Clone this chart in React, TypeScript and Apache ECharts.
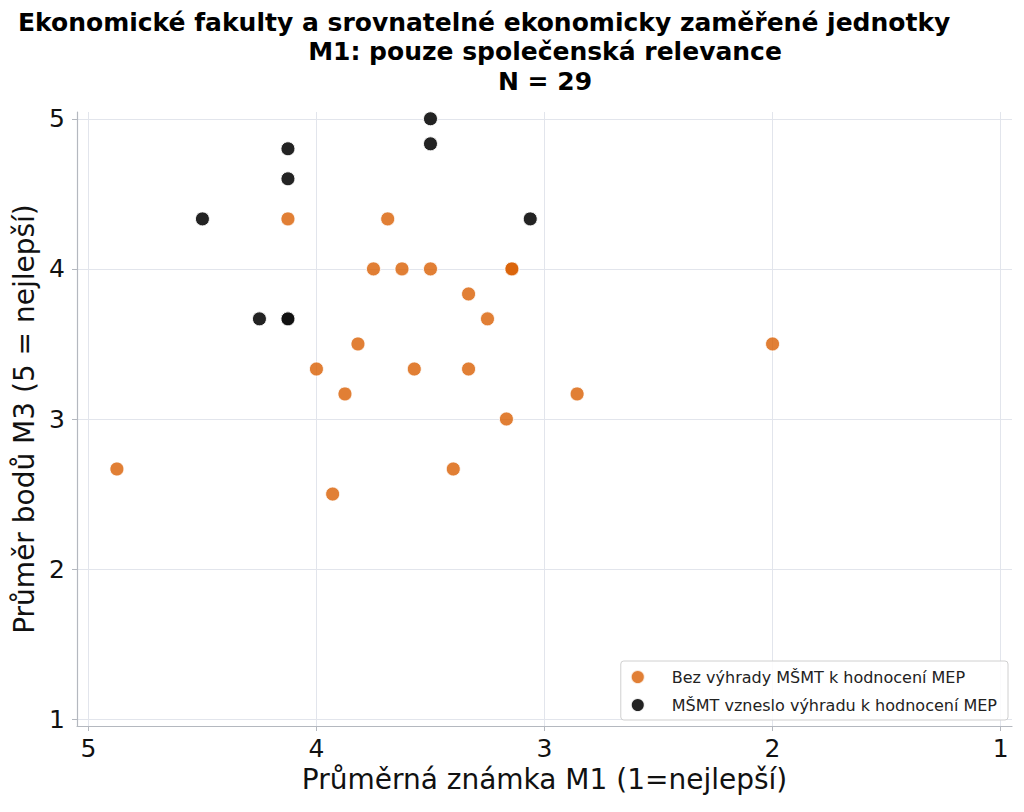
import React, { useEffect, useRef } from "react";
import * as echarts from "echarts";

const titleLines = [
  "Ekonomické fakulty a srovnatelné ekonomicky zaměřené jednotky",
  "M1: pouze společenská relevance",
  "N = 29",
];
const xAxisName = "Průměrná známka M1 (1=nejlepší)";
const yAxisName = "Průměr bodů M3 (5 = nejlepší)";
const seriesNames = [
  "Bez výhrady MŠMT k hodnocení MEP",
  "MŠMT vzneslo výhradu k hodnocení MEP",
];
const xTicks = [5, 4, 3, 2, 1];
const yTicks = [1, 2, 3, 4, 5];

// Bez výhrady (orange)
const noObjectionX = [4.875, 4.125, 3.6875, 3.75, 3.625, 3.5, 3.143, 3.143, 3.333, 3.25, 3.818, 4.0, 3.571, 3.333, 3.875, 2.857, 3.167, 3.4, 3.929, 2.0];
const noObjectionY = [2.667, 4.333, 4.333, 4.0, 4.0, 4.0, 4.0, 4.0, 3.833, 3.667, 3.5, 3.333, 3.333, 3.333, 3.167, 3.167, 3.0, 2.667, 2.5, 3.5];
// Výhrada (dark)
const objectionX = [4.5, 4.125, 4.125, 3.5, 3.5, 3.0625, 4.25, 4.125, 4.125];
const objectionY = [4.333, 4.8, 4.6, 5.0, 4.833, 4.333, 3.667, 3.667, 3.667];

const FONT = "DejaVu Sans";

export default function App() {
  const ref = useRef<HTMLDivElement>(null);
  useEffect(() => {
    document.body.style.margin = "0";
    const chart = echarts.init(ref.current!, null, { renderer: "svg" });
    const gridColor = "#e2e5ec";
    const spineColor = "#b4b8bf";
    const titleFont = `bold 25px "${FONT}"`;
    const option: any = {
      animation: false,
      textStyle: { fontFamily: FONT },
      grid: { left: 77, right: 12, top: 112, bottom: 86, containLabel: false },
      graphic: [
        { type: "text", x: 18, y: 10, style: { text: titleLines[0], font: titleFont, fill: "#000", textVerticalAlign: "top" } },
        { type: "text", x: 545, y: 39, style: { text: titleLines[1], font: titleFont, fill: "#000", textAlign: "center", textVerticalAlign: "top" } },
        { type: "text", x: 545, y: 69, style: { text: titleLines[2], font: titleFont, fill: "#000", textAlign: "center", textVerticalAlign: "top" } },
      ],
      legend: {
        orient: "vertical",
        right: 16,
        top: 661,
        data: seriesNames,
        icon: "circle",
        itemWidth: 14,
        itemHeight: 14,
        itemGap: 12,
        padding: [8, 11, 7, 9],
        borderColor: "#d0d0d0",
        borderWidth: 1,
        borderRadius: 3,
        backgroundColor: "rgba(255,255,255,0.85)",
        textStyle: { fontFamily: FONT, fontSize: 16, color: "#222", padding: [0, 0, 0, 22] },
      },
      xAxis: {
        type: "value",
        inverse: true,
        min: 0.95,
        max: 5.05,
        name: xAxisName,
        nameLocation: "middle",
        nameGap: 39,
        nameTextStyle: { fontFamily: FONT, fontSize: 28, color: "#111" },
        axisLine: { show: true, lineStyle: { color: spineColor, width: 1.2 } },
        axisTick: { show: true, customValues: xTicks, length: 5, lineStyle: { color: spineColor } },
        axisLabel: { customValues: xTicks, fontFamily: FONT, fontSize: 25, color: "#111", margin: 10 },
        splitLine: { show: true, lineStyle: { color: gridColor, width: 1 } },
      },
      yAxis: {
        type: "value",
        min: 0.955,
        max: 5.045,
        name: yAxisName,
        nameLocation: "middle",
        nameGap: 38,
        nameTextStyle: { fontFamily: FONT, fontSize: 28, color: "#111" },
        axisLine: { show: true, lineStyle: { color: spineColor, width: 1.2 } },
        axisTick: { show: true, customValues: yTicks, length: 5, lineStyle: { color: spineColor } },
        axisLabel: { customValues: yTicks, fontFamily: FONT, fontSize: 25, color: "#111", margin: 12 },
        splitLine: { show: true, lineStyle: { color: gridColor, width: 1 } },
      },
      series: [
        {
          name: seriesNames[0],
          type: "scatter",
          symbolSize: 14,
          itemStyle: { color: "#d95f02", opacity: 0.8, borderColor: "#fff", borderWidth: 1 },
          data: noObjectionX.map((x, i) => [x, noObjectionY[i]]),
        },
        {
          name: seriesNames[1],
          type: "scatter",
          symbolSize: 14,
          itemStyle: { color: "#101010", opacity: 0.92, borderColor: "#fff", borderWidth: 1 },
          data: objectionX.map((x, i) => [x, objectionY[i]]),
        },
      ],
    };
    chart.setOption(option);
    return () => chart.dispose();
  }, []);
  return <div ref={ref} style={{ width: 1024, height: 812 }} />;
}
